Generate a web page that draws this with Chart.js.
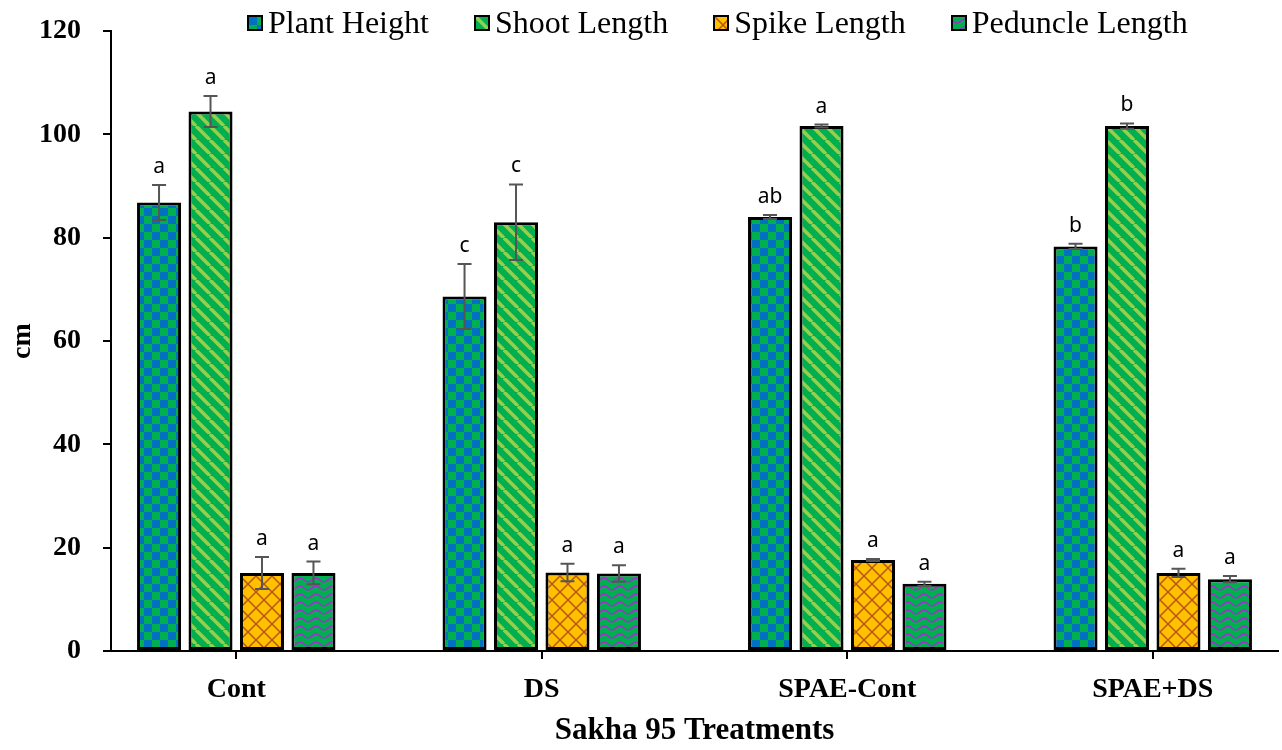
<!DOCTYPE html>
<html>
<head>
<meta charset="utf-8">
<script src="https://cdn.jsdelivr.net/npm/chart.js@4.4.1/dist/chart.umd.min.js"></script>
<style>
  html, body { margin: 0; padding: 0; background: #fff; }
  #wrap { position: relative; width: 1282px; height: 750px; }
  #legend { position: absolute; top: 4px; left: 247px; display: flex; gap: 45px; font: 32px "Liberation Serif", serif; color: #000; }
  .item { display: flex; align-items: center; }
  .item canvas { width: 12px; height: 12px; border: 2px solid #000; margin-right: 5px; }
</style>
</head>
<body>
<div id="wrap">
  <canvas id="chart" width="1282" height="750"></canvas>
  <div id="legend"></div>
</div>
<script>
const categories = ['Cont', 'DS', 'SPAE-Cont', 'SPAE+DS']

const plantHeight = [86.8, 68.6, 84.0, 78.3]
const plantHeightErr = [3.4, 6.3, 0.4, 0.5]
const plantHeightLetters = ['a', 'c', 'ab', 'b']

const shootLength = [104.4, 83.0, 101.6, 101.6]
const shootLengthErr = [3.0, 7.3, 0.3, 0.5]
const shootLengthLetters = ['a', 'c', 'a', 'b']

const spikeLength = [15.1, 15.2, 17.6, 15.1]
const spikeLengthErr = [3.1, 1.7, 0.2, 0.8]
const spikeLengthLetters = ['a', 'a', 'a', 'a']

const peduncleLength = [15.1, 15.0, 13.0, 13.9]
const peduncleLengthErr = [2.2, 1.6, 0.4, 0.6]
const peduncleLengthLetters = ['a', 'a', 'a', 'a']

const yTicks = [0, 20, 40, 60, 80, 100, 120]

const serif = '"Liberation Serif", "Times New Roman", serif'

// pattern tiles, excel style fills
function tile(w, h, draw) {
  const c = document.createElement('canvas')
  c.width = w
  c.height = h
  draw(c.getContext('2d'), w, h)
  return c
}

const checkTile = tile(16, 16, (g) => {
  g.fillStyle = '#00B050'
  g.fillRect(0, 0, 16, 16)
  g.fillStyle = '#0070C0'
  g.fillRect(0, 0, 8, 8)
  g.fillRect(8, 8, 8, 8)
})

const stripeTile = tile(14, 14, (g) => {
  g.fillStyle = '#00B050'
  g.fillRect(0, 0, 14, 14)
  g.strokeStyle = '#92D050'
  g.lineWidth = 3.5
  for (const x0 of [-14, 0, 14]) {
    g.beginPath()
    g.moveTo(x0, 0)
    g.lineTo(x0 + 14, 14)
    g.stroke()
  }
})

const latticeTile = tile(16, 16, (g) => {
  g.fillStyle = '#FFC000'
  g.fillRect(0, 0, 16, 16)
  g.strokeStyle = '#B8541A'
  g.lineWidth = 1.5
  g.beginPath()
  g.moveTo(0, 0); g.lineTo(16, 16)
  g.moveTo(16, 0); g.lineTo(0, 16)
  g.stroke()
})

const waveTile = tile(16, 8, (g) => {
  g.fillStyle = '#00B050'
  g.fillRect(0, 0, 16, 8)
  g.strokeStyle = '#A030C8'
  g.lineWidth = 1.6
  g.beginPath()
  for (let x = 0; x <= 16; x++) {
    const y = 4 + 2 * Math.sin((x / 16) * Math.PI * 2)
    if (x === 0) g.moveTo(x, y)
    else g.lineTo(x, y)
  }
  g.stroke()
})

const canvas = document.getElementById('chart')
const ctx = canvas.getContext('2d')

function series(label, values, errors, letters, tileCanvas) {
  return {
    label,
    data: values.map((v, i) => ({ x: i, y: v })),
    errors,
    letters,
    tile: tileCanvas,
    backgroundColor: ctx.createPattern(tileCanvas, 'repeat'),
    borderColor: '#000',
    borderWidth: 3,
    borderSkipped: false,
    categoryPercentage: 0.674,
    barPercentage: 0.855,
  }
}

const datasets = [
  series('Plant Height', plantHeight, plantHeightErr, plantHeightLetters, checkTile),
  series('Shoot Length', shootLength, shootLengthErr, shootLengthLetters, stripeTile),
  series('Spike Length', spikeLength, spikeLengthErr, spikeLengthLetters, latticeTile),
  series('Peduncle Length', peduncleLength, peduncleLengthErr, peduncleLengthLetters, waveTile),
]

const errorBars = {
  id: 'errorBars',
  afterDatasetsDraw(chart) {
    const c = chart.ctx
    const y = chart.scales.y
    c.save()
    chart.data.datasets.forEach((ds, di) => {
      chart.getDatasetMeta(di).data.forEach((bar, i) => {
        const v = ds.data[i].y
        const e = ds.errors[i]
        const top = y.getPixelForValue(v + e)
        const bot = y.getPixelForValue(v - e)
        c.strokeStyle = '#555'
        c.lineWidth = 2
        c.beginPath()
        c.moveTo(bar.x, top); c.lineTo(bar.x, bot)
        c.moveTo(bar.x - 7, top); c.lineTo(bar.x + 7, top)
        c.moveTo(bar.x - 7, bot); c.lineTo(bar.x + 7, bot)
        c.stroke()
        c.fillStyle = '#000'
        c.font = '21px "Noto Sans", "Open Sans", sans-serif'
        c.textAlign = 'center'
        c.textBaseline = 'alphabetic'
        c.fillText(ds.letters[i], bar.x, top - 12)
      })
    })
    c.restore()
  }
}

const chart = new Chart(ctx, {
  type: 'bar',
  data: { datasets },
  plugins: [errorBars],
  options: {
    responsive: false,
    animation: false,
    layout: { padding: { top: 31, right: 4, left: 0, bottom: 0 } },
    plugins: {
      legend: { display: false },
      tooltip: { enabled: false },
    },
    scales: {
      x: {
        type: 'linear',
        min: -0.41,
        max: 3.41,
        offset: false,
        afterBuildTicks: (s) => { s.ticks = categories.map((c, i) => ({ value: i })) },
        afterFit: (s) => { s.height = 99 },
        ticks: {
          callback: (v) => categories[v],
          color: '#000',
          font: { family: serif, size: 28, weight: 'bold' },
          padding: 14,
          autoSkip: false,
          maxRotation: 0,
        },
        grid: { offset: false, drawOnChartArea: false, color: '#000', lineWidth: 2, tickLength: 8 },
        border: { color: '#000', width: 2 },
        title: {
          display: true,
          text: 'Sakha 95 Treatments',
          color: '#000',
          font: { family: serif, size: 31, weight: 'bold' },
          padding: { top: 0, bottom: 0 },
        },
      },
      y: {
        min: 0,
        max: 120,
        afterBuildTicks: (s) => { s.ticks = yTicks.map((v) => ({ value: v })) },
        // fixed axis width, and keep the label gap out of the top padding
        afterFit: (s) => { s.width = 111; s.paddingTop = 17; s.paddingBottom = 17 },
        ticks: {
          color: '#000',
          font: { family: serif, size: 28, weight: 'bold' },
          padding: 22,
        },
        grid: { drawOnChartArea: false, color: '#000', lineWidth: 2, tickLength: 8 },
        border: { color: '#000', width: 2 },
        title: {
          display: true,
          text: 'cm',
          color: '#000',
          font: { family: serif, size: 28, weight: 'bold' },
          padding: { top: 6, bottom: 0 },
        },
      },
    },
  },
})

// html legend so it can sit level with the top tick
const legend = document.getElementById('legend')
datasets.forEach((ds) => {
  const item = document.createElement('div')
  item.className = 'item'
  const box = document.createElement('canvas')
  box.width = 12
  box.height = 12
  const g = box.getContext('2d')
  g.fillStyle = g.createPattern(ds.tile, 'repeat')
  g.fillRect(0, 0, 12, 12)
  const span = document.createElement('span')
  span.textContent = ds.label
  item.appendChild(box)
  item.appendChild(span)
  legend.appendChild(item)
})
</script>
</body>
</html>
